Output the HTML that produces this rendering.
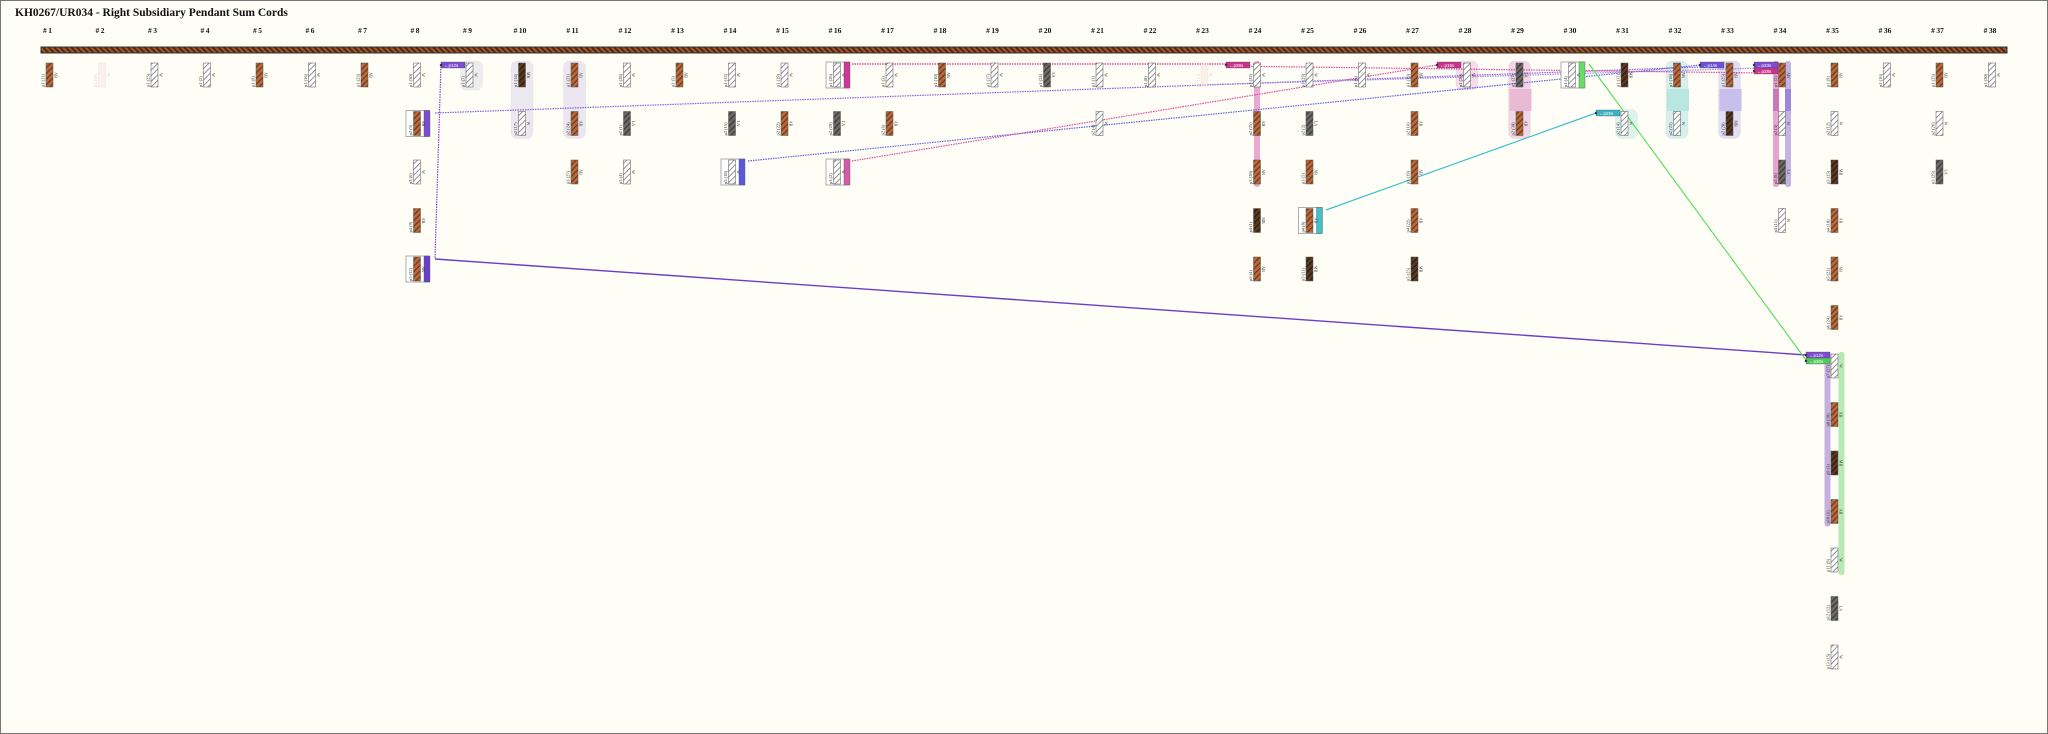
<!DOCTYPE html>
<html><head><meta charset="utf-8"><style>
html,body{margin:0;padding:0;background:#fefef7;}
svg{display:block}
</style></head><body>
<svg id="s" width="2048" height="734" xmlns="http://www.w3.org/2000/svg" font-family="Liberation Serif, serif">
<defs>
<pattern id="hb" width="4" height="4" patternUnits="userSpaceOnUse" patternTransform="rotate(45)"><rect width="4" height="4" fill="#b86a3c"/><rect width="1.3" height="4" fill="#6e3a1c"/></pattern>
<pattern id="hd" width="4" height="4" patternUnits="userSpaceOnUse" patternTransform="rotate(45)"><rect width="4" height="4" fill="#5b3a24"/><rect width="1.3" height="4" fill="#2e1c10"/></pattern>
<pattern id="hg" width="4" height="4" patternUnits="userSpaceOnUse" patternTransform="rotate(45)"><rect width="4" height="4" fill="#6d6a66"/><rect width="1.3" height="4" fill="#3d3a38"/></pattern>
<pattern id="hw" width="4" height="4" patternUnits="userSpaceOnUse" patternTransform="rotate(45)"><rect width="4" height="4" fill="#ffffff"/><rect width="0.8" height="4" fill="#777"/></pattern>
<pattern id="hm" width="4" height="4" patternUnits="userSpaceOnUse" patternTransform="rotate(-45)"><rect width="4" height="4" fill="#a0562c"/><rect width="1.8" height="4" fill="#4a2612"/></pattern>
</defs>
<rect x="0.5" y="0.5" width="2047" height="733" fill="#fefef7" stroke="#777"/>
<text x="15" y="16" font-size="11.5" font-weight="600" fill="#111">KH0267/UR034 - Right Subsidiary Pendant Sum Cords</text>
<g id="g"></g>
</svg>
<script>
var g=document.getElementById('g'),h='';
function X(i){return 49.5+52.5*(i-1);}
function Y(r){return 63+(r-1)*48.5;}
for(var i=1;i<=38;i++)h+='<text x="'+(X(i)-2)+'" y="33" font-size="7.5" font-weight="bold" text-anchor="middle" fill="#111">#&#8201;'+i+'</text>';
h+='<rect x="41" y="47" width="1966" height="6" fill="url(#hm)" stroke="#333" stroke-width="1"/>';
function bg(x,r1,r2,c,w){w=w||18;h+='<rect x="'+(x-w/2)+'" y="'+(Y(r1)-2)+'" width="'+w+'" height="'+(Y(r2)-Y(r1)+29)+'" rx="6" fill="'+c+'" stroke="#ccc" stroke-width="0.4" stroke-dasharray="1,1"/>';}
bg(X(9)+2,1,1,'#eeedee',22);bg(X(10),1,2,'#ece8ef',22);bg(X(11),1,2,'#ebe6f0',22);
bg(X(28),1,1,'#f6dbe8',22);bg(X(29),1,2,'#f2d6e6',22);bg(X(31)+2,2,2,'#dff3ee',22);
bg(X(32),1,2,'#d8efec',22);bg(X(33),1,2,'#e3def3',22);
h+='<rect x="'+(X(29)-10)+'" y="'+(Y(1)+26)+'" width="22" height="22" fill="#eab9d3"/>';
h+='<rect x="'+(X(32)-10)+'" y="'+(Y(1)+26)+'" width="22" height="22" fill="#b8e6e0"/>';
h+='<rect x="'+(X(33)-10)+'" y="'+(Y(1)+26)+'" width="22" height="22" fill="#c8c0ec"/>';
function vb(x,r1,r2,c,w){h+='<rect x="'+(x-w/2)+'" y="'+(Y(r1)-2)+'" width="'+w+'" height="'+(Y(r2)-Y(r1)+29)+'" rx="2.5" fill="'+c+'"/>';}
vb(X(24),1,3,'#eaa9cf',6);vb(X(34)-6,1,3,'#e7a4cf',6);vb(X(34)+6,1,3,'#c4b4e6',6);
h+='<rect x="'+(X(34)-9)+'" y="'+(Y(1)+26)+'" width="6" height="22" fill="#cc77bb"/><rect x="'+(X(34)+3)+'" y="'+(Y(1)+26)+'" width="6" height="22" fill="#9d86db"/>';
vb(X(35)-7,7,10,'#c5b0e0',6);vb(X(35)+7,7,11,'#b6e9b4',6);
function ln(x1,y1,x2,y2,c,d,w){h+='<line x1="'+x1+'" y1="'+y1+'" x2="'+x2+'" y2="'+y2+'" stroke="'+c+'" stroke-width="'+(w||1.2)+'"'+(d?' stroke-dasharray="1.5,1"':'')+'/>';}
ln(435,113,1700,67,'#8a5ee0',1);ln(441,64,435,258,'#7a48d8',1);ln(435,259,1806,355,'#6b3ec8',0,1.4);
ln(748,161,1700,65,'#6060e0',1);ln(852,161,1437,65,'#e04aa0',1);ln(852,64,1226,64,'#e04aa0',1,1.6);
ln(1226,66,1760,73,'#e04aa0',1);ln(1200,85,1760,68,'#a08ae0',1);
ln(1326,210,1596,113,'#3cc0cc',0,1.2);ln(1589,64,1806,360,'#55dd55',0,1.1);
function lab(x,y,c,t){h+='<rect x="'+x+'" y="'+(y-3)+'" width="24" height="6" fill="'+c+'" stroke="#444" stroke-width="0.3"/><circle cx="'+x+'" cy="'+y+'" r="1.2" fill="#333"/><text x="'+(x+3)+'" y="'+(y+2)+'" font-size="4.5" fill="#fff" font-family="Liberation Sans">'+t+'</text>';}
lab(441,65,'#7d4cd0','&#8592;p12s');lab(1226,65,'#c8358d','&#8592;p28s');lab(1437,65,'#c8358d','&#8592;p16s');
lab(1596,113,'#3cb3c4','&#8592;p25s');lab(1700,65,'#6a52d8','&#8592;p14s');
lab(1754,65,'#7d4cd0','&#8592;p33s');lab(1754,71,'#c8358d','&#8592;p28s');
lab(1806,355,'#7d4cd0','&#8592;p12s');lab(1806,361,'#52c85a','&#8592;p30s');
var F={b:'url(#hb)',w:'url(#hw)',g:'url(#hg)',d:'url(#hd)',f:'#f7e5df'};
var T={b:'AB',w:'W',g:'LA',d:'MB',f:'PL'};
function cord(i,r,t,box,bc){var x=X(i),y=Y(r);
 if(box){h+='<rect x="'+(x-11)+'" y="'+(y-1)+'" width="23" height="26" fill="#fff" stroke="#777" stroke-width="0.6"/><rect x="'+(x+7)+'" y="'+(y-1)+'" width="6" height="26" fill="'+bc+'" stroke="#555" stroke-width="0.4"/>';}
 var op=t=='f'?' opacity="0.5"':'';
 h+='<rect x="'+(x-3.5)+'" y="'+y+'" width="7" height="24" fill="'+F[t]+'" stroke="'+(t=='f'?'#e8c8c0':'#555')+'" stroke-width="0.5"'+op+'/>';
 h+='<text transform="translate('+(x-5)+','+(y+24)+') rotate(-90)" font-size="4.5" fill="'+(t=='f'?'#e9d0c8':'#333')+'">p'+r+' ('+((i*7+r*3)%30+1)+')</text>';
 h+='<text transform="translate('+(x+5)+','+(y+12)+') rotate(90)" font-size="4" fill="'+(t=='f'?'#e9d0c8':'#333')+'" text-anchor="middle">'+T[t]+'</text>';}
var D={1:'b',2:'f',3:'w',4:'w',5:'b',6:'w',7:'b',8:'w,b,w,b,b',9:'w',10:'d,w',11:'b,b,b',12:'w,g,w',13:'b',14:'w,g,w',15:'w,b',16:'w,g,w',17:'w,b',18:'b',19:'w',20:'g',21:'w,w',22:'w',23:'f',24:'w,b,b,d,b',25:'w,g,b,b,d',26:'w',27:'b,b,b,b,d',28:'w',29:'g,b',30:'w',31:'d,w',32:'b,w',33:'b,d',34:'b,w,g,w',35:'b,w,d,b,b,b,w,b,d,b,w,g,w',36:'w',37:'b,w,g',38:'w'};
var B={'8_2':'#7d4cd0','8_5':'#6a3ec8','14_3':'#5a5ae0','16_1':'#d0359a','16_3':'#d65aa8','25_4':'#45c0c8','30_1':'#66dd66'};
for(var k in D){D[k].split(',').forEach(function(t,j){var key=k+'_'+(j+1);cord(+k,j+1,t,!!B[key],B[key]);});}
g.innerHTML=h;
</script>
</body></html>
